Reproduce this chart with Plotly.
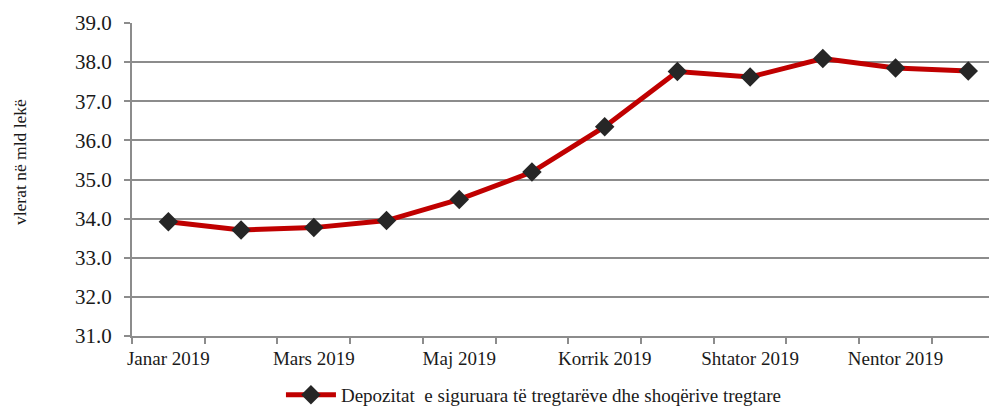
import plotly.graph_objects as go

months = ["Janar 2019", "Shkurt 2019", "Mars 2019", "Prill 2019", "Maj 2019", "Qershor 2019",
          "Korrik 2019", "Gusht 2019", "Shtator 2019", "Tetor 2019", "Nentor 2019", "Dhjetor 2019"]
values = [33.92, 33.71, 33.77, 33.95, 34.49, 35.19, 36.35, 37.76, 37.62, 38.09, 37.85, 37.77]
tick_labels = [m if i % 2 == 0 else "" for i, m in enumerate(months)]
y_ticks = [31, 32, 33, 34, 35, 36, 37, 38, 39]
series_name = "Depozitat\u00a0 e siguruara të tregtarëve dhe shoqërive tregtare"

FONT = "Liberation Serif"
GRID = "#8c8c8c"

fig = go.Figure()
fig.add_trace(go.Scatter(
    x=months, y=values, mode="lines+markers", name=series_name,
    line=dict(color="#C00000", width=5),
    marker=dict(symbol="diamond", size=15, color="#262626"),
))

fig.update_layout(
    width=989, height=406,
    margin=dict(l=124, r=4, t=15, b=78),
    paper_bgcolor="white", plot_bgcolor="white",
    font=dict(family=FONT, color="#1a1a1a"),
    showlegend=True,
    legend=dict(orientation="h", x=0.173, xanchor="left",
                yref="container", y=-0.035, yanchor="bottom",
                font=dict(size=19, family=FONT), itemwidth=50),
    annotations=[dict(text="vlerat në mld lekë", xref="paper", yref="paper",
                      x=-0.130, y=0.556, xanchor="center", yanchor="middle",
                      textangle=-90, showarrow=False, font=dict(size=17.5, family=FONT))],
)
fig.update_xaxes(
    type="category", categoryorder="array", categoryarray=months,
    tickvals=months, ticktext=tick_labels, tickson="boundaries",
    range=[-0.5, 11.34], automargin=False,
    ticks="outside", ticklen=6, tickcolor=GRID, tickwidth=1.5,
    showline=True, linecolor=GRID, linewidth=2,
    showgrid=False, tickfont=dict(size=19, family=FONT), tickangle=0,
    ticklabelstandoff=4,
)
fig.update_yaxes(
    range=[31, 39], tickvals=y_ticks, ticktext=[f"{v:.1f}" for v in y_ticks],
    automargin=False,
    ticks="outside", ticklen=6, tickcolor=GRID, tickwidth=1.5,
    showline=True, linecolor=GRID, linewidth=2,
    showgrid=True, gridcolor=GRID, gridwidth=1.5, zeroline=False,
    tickfont=dict(size=21, family=FONT), ticklabelstandoff=8,
)

fig.write_html("out.html")
